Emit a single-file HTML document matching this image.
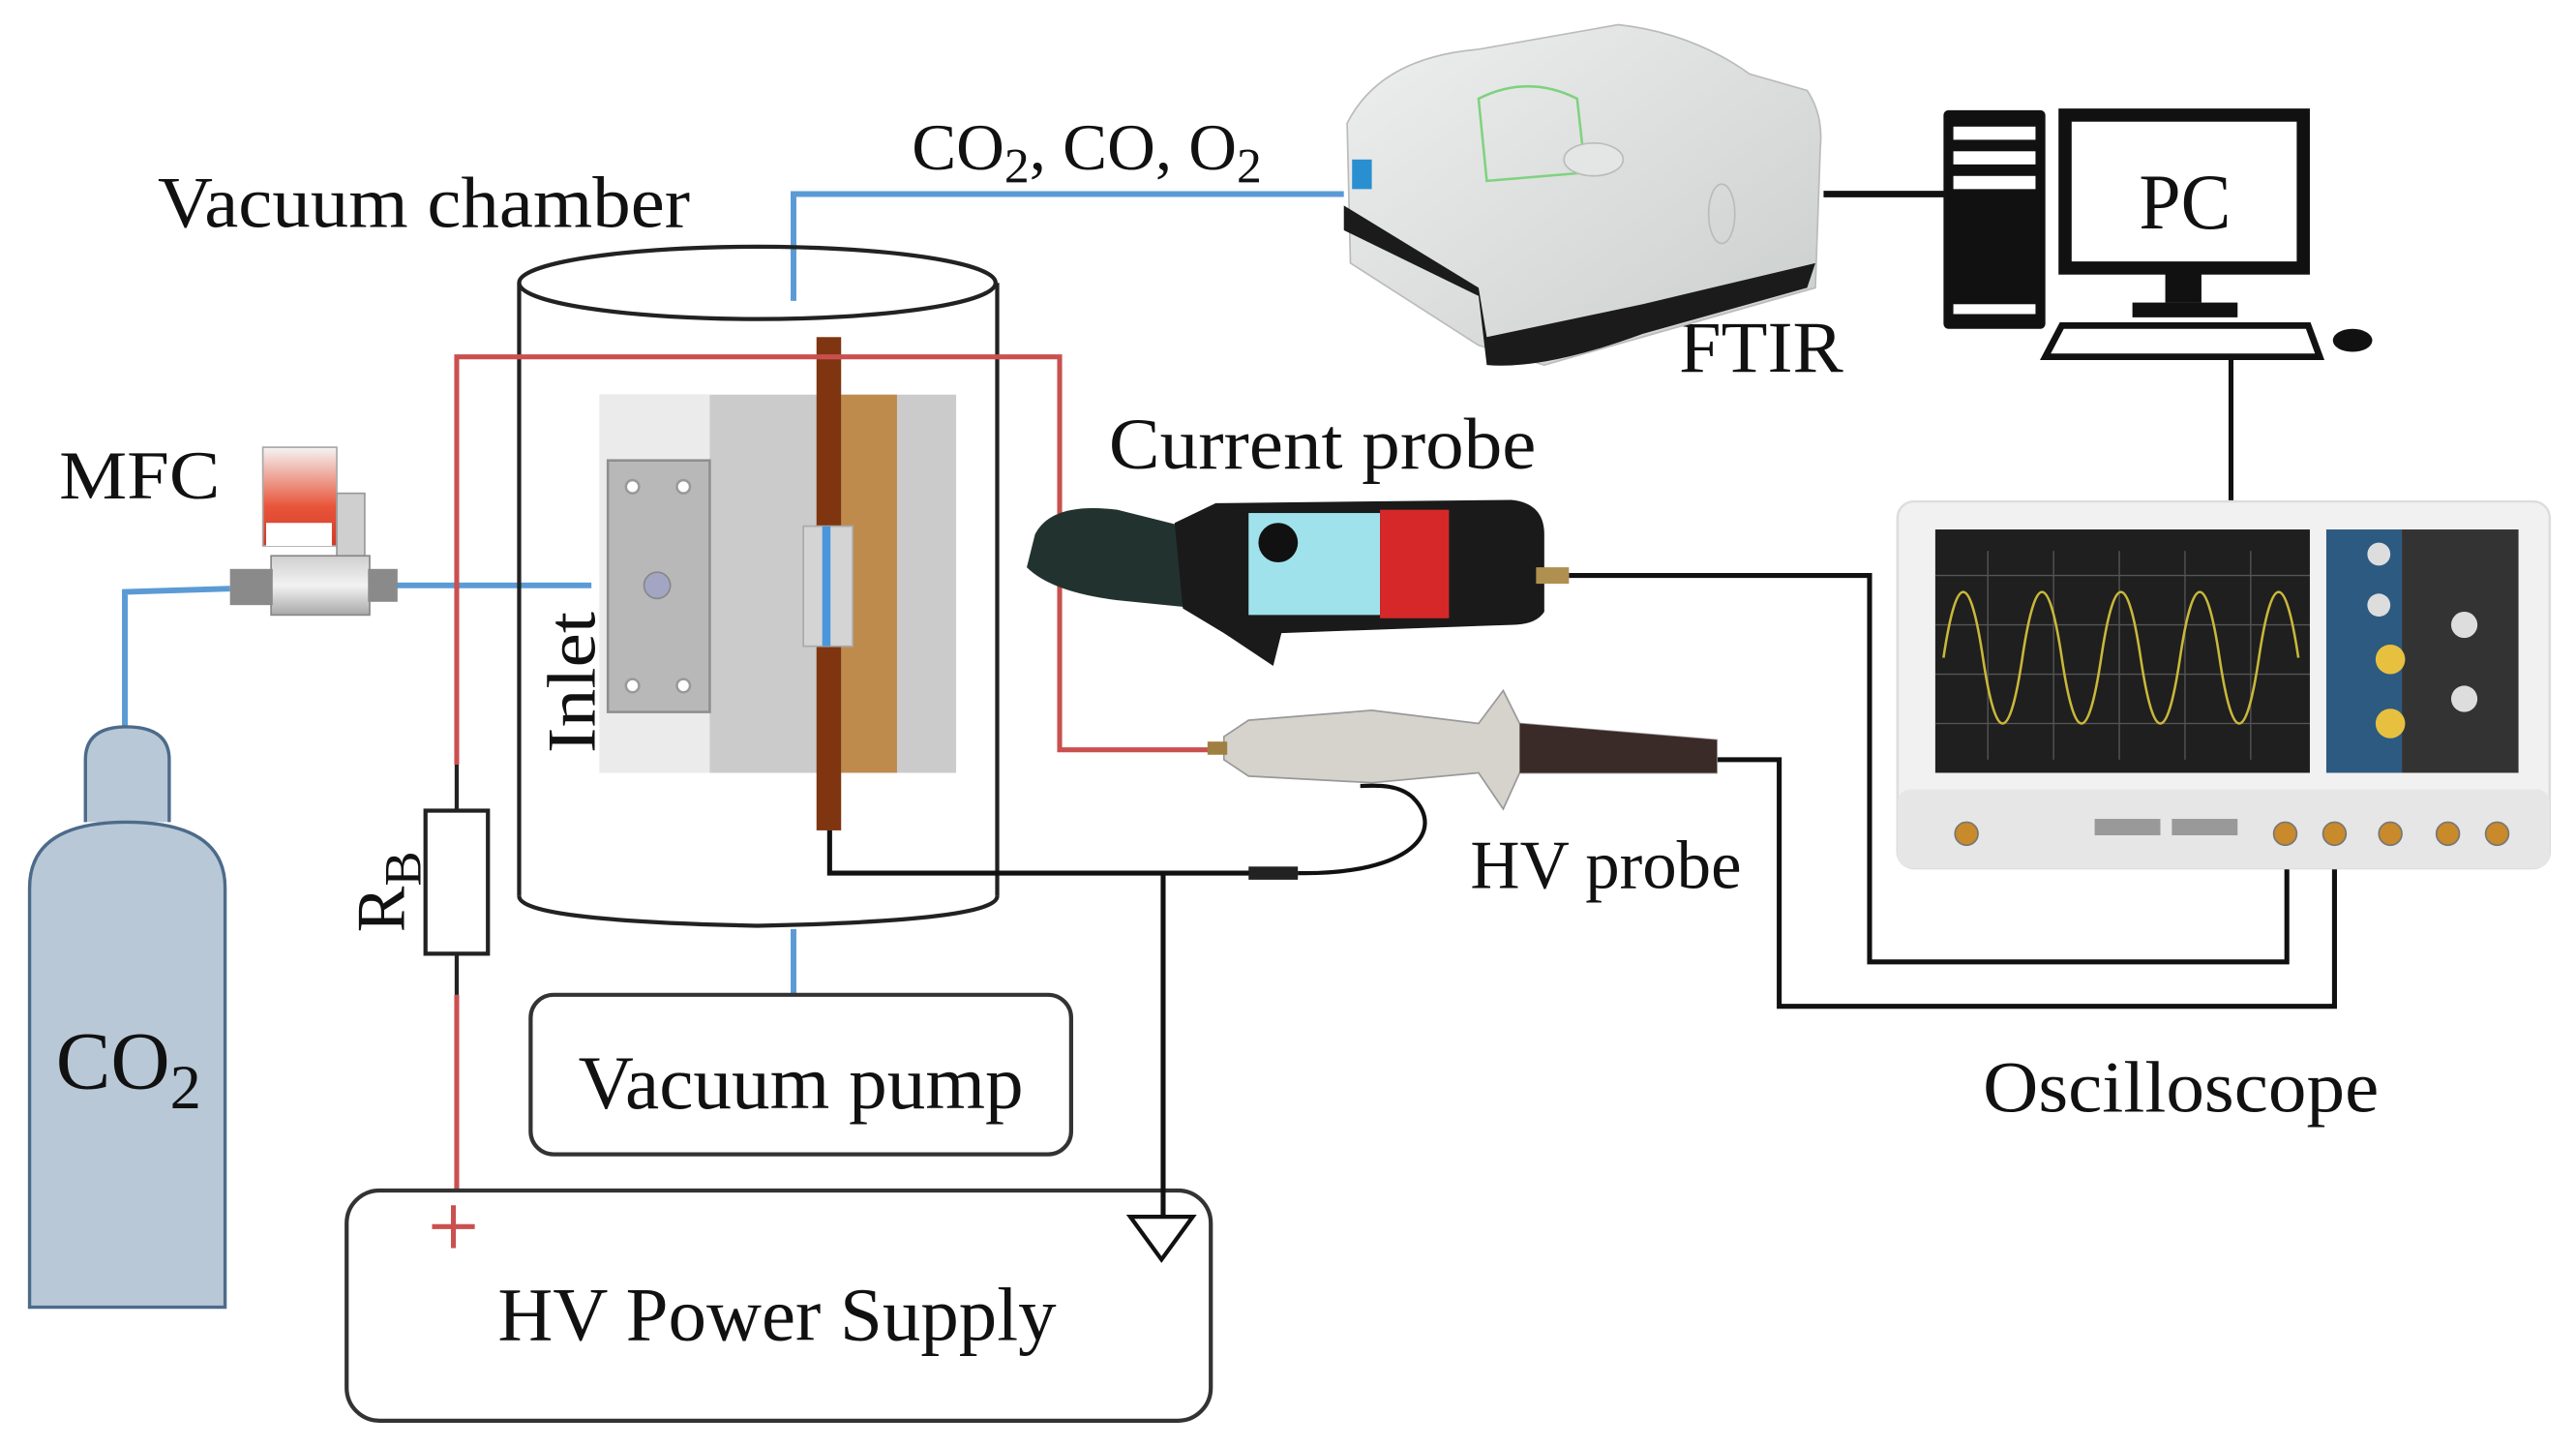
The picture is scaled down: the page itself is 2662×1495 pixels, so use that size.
<!DOCTYPE html>
<html><head><meta charset="utf-8"><style>
html,body{margin:0;padding:0;background:#fff;}
svg{display:block;}
text{font-family:"Liberation Serif",serif;fill:#111;}
</style></head><body>
<svg width="2662" height="1495" viewBox="0 0 1568 880" preserveAspectRatio="none" xmlns="http://www.w3.org/2000/svg">
<defs>
<linearGradient id="mfcr" x1="0" y1="0" x2="0" y2="1"><stop offset="0" stop-color="#f4f4f4"/><stop offset="0.6" stop-color="#e8553a"/><stop offset="1" stop-color="#d23a2a"/></linearGradient>
<linearGradient id="silv" x1="0" y1="0" x2="0" y2="1"><stop offset="0" stop-color="#cfcfcf"/><stop offset="0.5" stop-color="#f2f2f2"/><stop offset="1" stop-color="#a8a8a8"/></linearGradient>
<linearGradient id="ftir" x1="0" y1="0" x2="1" y2="1"><stop offset="0" stop-color="#eef0ef"/><stop offset="1" stop-color="#c9cdcc"/></linearGradient>
</defs>

<!-- texts -->
<text x="96" y="138" font-size="44" textLength="324" lengthAdjust="spacingAndGlyphs">Vacuum chamber</text>
<text x="555" y="103" font-size="40" textLength="213" lengthAdjust="spacingAndGlyphs">CO<tspan font-size="30" dy="8">2</tspan><tspan dy="-8">, CO, O</tspan><tspan font-size="30" dy="8">2</tspan></text>
<text x="36" y="303" font-size="42" textLength="98" lengthAdjust="spacingAndGlyphs">MFC</text>
<text x="1022" y="226" font-size="44" textLength="100" lengthAdjust="spacingAndGlyphs">FTIR</text>
<text x="675" y="285" font-size="44" textLength="260" lengthAdjust="spacingAndGlyphs">Current probe</text>
<text x="895" y="540" font-size="42" textLength="165" lengthAdjust="spacingAndGlyphs">HV probe</text>
<text x="1207" y="676" font-size="44" textLength="241" lengthAdjust="spacingAndGlyphs">Oscilloscope</text>

<!-- blue gas lines -->
<g stroke="#5b9bd5" stroke-width="3.5" fill="none">
<polyline points="483,183 483,118 818,118"/>
<polyline points="76,442 76,360 140,358"/>
<line x1="240" y1="356" x2="360" y2="356"/>
<line x1="483" y1="565" x2="483" y2="605"/>
</g>

<!-- vacuum chamber -->
<g stroke="#222" stroke-width="2.5" fill="none">
<ellipse cx="461" cy="172" rx="145" ry="22"/>
<line x1="316" y1="172" x2="316" y2="545"/>
<line x1="607" y1="172" x2="607" y2="545"/>
<path d="M316,545 Q316,560 461,563 Q607,560 607,545"/>
</g>

<!-- reactor block -->
<rect x="365" y="240" width="217" height="230" fill="#cbcbcb"/>
<rect x="365" y="240" width="67" height="230" fill="#ebebeb"/>
<rect x="512" y="240" width="34" height="230" fill="#be8b4d"/>
<rect x="370" y="280" width="62" height="153" fill="#b8b8b8" stroke="#8f8f8f" stroke-width="1.5"/>
<g fill="#fff" stroke="#999" stroke-width="1.5">
<circle cx="385" cy="296" r="4"/><circle cx="416" cy="296" r="4"/>
<circle cx="385" cy="417" r="4"/><circle cx="416" cy="417" r="4"/>
</g>
<circle cx="400" cy="356" r="8" fill="#a2a6c2" stroke="#888" stroke-width="1"/>
<rect x="497" y="205" width="15" height="300" fill="#7f3610"/>
<rect x="489" y="320" width="30" height="73" fill="#d4d4d4" stroke="#aaa" stroke-width="1"/>
<line x1="503" y1="320" x2="503" y2="393" stroke="#4a96dc" stroke-width="5"/>
<text font-size="42" transform="translate(362,458) rotate(-90)" textLength="86" lengthAdjust="spacingAndGlyphs">Inlet</text>

<!-- red wires -->
<g stroke="#c9504f" stroke-width="3" fill="none">
<polyline points="278,465 278,217 645,217 645,456 745,456"/>
<line x1="278" y1="605" x2="278" y2="724"/>
</g>
<path d="M263,746 H289 M276,733 V759" stroke="#c9504f" stroke-width="3"/>

<!-- resistor -->
<g stroke="#222" stroke-width="2.5" fill="none">
<line x1="278" y1="465" x2="278" y2="493"/>
<line x1="278" y1="580" x2="278" y2="605"/>
<rect x="259" y="493" width="38" height="87" fill="#fff"/>
</g>
<text font-size="42" transform="translate(246,567) rotate(-90)">R<tspan font-size="32" dy="10">B</tspan></text>

<!-- boxes -->
<rect x="323" y="605" width="329" height="97" rx="14" fill="#fff" stroke="#333" stroke-width="2.5"/>
<text x="352" y="674" font-size="46" textLength="271" lengthAdjust="spacingAndGlyphs">Vacuum pump</text>
<rect x="211" y="724" width="526" height="140" rx="20" fill="none" stroke="#333" stroke-width="2.5"/>
<text x="303" y="815" font-size="46" textLength="340" lengthAdjust="spacingAndGlyphs">HV Power Supply</text>

<!-- black ground wires -->
<g stroke="#111" stroke-width="3" fill="none">
<polyline points="505,505 505,531 790,531"/>
<line x1="708" y1="531" x2="708" y2="740"/>
<path d="M688,740 H726 L707,766 Z" stroke-width="2.5" fill="#fff"/>
<path d="M790,531 C860,532 880,505 860,485 C850,476 835,478 828,478" stroke-width="2.5"/>
<polyline points="955,350 1138,350 1138,585 1392,585 1392,512"/>
<polyline points="1045,462 1083,462 1083,612 1421,612 1421,512"/>
<line x1="1110" y1="118" x2="1185" y2="118" stroke-width="4"/>
<line x1="1358" y1="218" x2="1358" y2="305"/>
</g>
<rect x="760" y="527" width="30" height="8" fill="#222"/>

<!-- CO2 cylinder -->
<path d="M52,500 V462 Q52,442 77,442 Q103,442 103,462 V500" fill="#b8c8d6" stroke="#4c6b8a" stroke-width="2"/>
<path d="M18,795 V540 Q18,500 77,500 Q137,500 137,540 V795 Z" fill="#b8c8d6" stroke="#4c6b8a" stroke-width="2"/>
<text x="34" y="662" font-size="50">CO<tspan font-size="38" dy="12">2</tspan></text>

<!-- MFC -->
<rect x="160" y="272" width="45" height="60" fill="url(#mfcr)" stroke="#aaa" stroke-width="1"/>
<rect x="205" y="300" width="17" height="42" fill="#cfcfcf" stroke="#999" stroke-width="1"/>
<rect x="162" y="318" width="40" height="14" fill="#fff"/>
<rect x="165" y="338" width="60" height="36" fill="url(#silv)" stroke="#888" stroke-width="1"/>
<rect x="140" y="346" width="26" height="22" fill="#8a8a8a"/>
<rect x="224" y="346" width="18" height="20" fill="#8a8a8a"/>

<!-- FTIR -->
<path d="M820,75 Q840,35 900,30 L985,15 Q1030,20 1065,45 L1100,55 Q1110,70 1108,90 L1105,175 Q1000,205 940,222 L900,210 L822,160 Z" fill="url(#ftir)" stroke="#bbb" stroke-width="1"/>
<path d="M818,140 L900,180 L905,222 Q940,225 1000,203 L1100,175 L1105,160 L1000,185 L905,205 L900,175 L818,125 Z" fill="#1b1b1b"/>
<path d="M900,60 Q930,45 960,60 L965,105 L905,110 Z" fill="none" stroke="#7fd27f" stroke-width="1.5"/>
<rect x="823" y="97" width="12" height="18" fill="#2a8fd0"/>
<ellipse cx="970" cy="97" rx="18" ry="10" fill="#e3e6e5" stroke="#bbb"/>
<ellipse cx="1048" cy="130" rx="8" ry="18" fill="none" stroke="#bbb"/>

<!-- PC -->
<rect x="1183" y="67" width="62" height="133" rx="3" fill="#111"/>
<g fill="#fff"><rect x="1189" y="77" width="50" height="8"/><rect x="1189" y="92" width="50" height="8"/><rect x="1189" y="107" width="50" height="8"/><rect x="1189" y="185" width="50" height="6"/></g>
<rect x="1257" y="70" width="145" height="93" fill="#fff" stroke="#111" stroke-width="8"/>
<text x="1302" y="139" font-size="48" textLength="56" lengthAdjust="spacingAndGlyphs">PC</text>
<rect x="1318" y="166" width="22" height="18" fill="#111"/>
<rect x="1298" y="184" width="64" height="9" fill="#111"/>
<path d="M1255,198 L1405,198 L1412,217 L1245,217 Z" fill="#fff" stroke="#111" stroke-width="4"/>
<ellipse cx="1432" cy="207" rx="12" ry="7" fill="#111"/>

<!-- Current probe -->
<path d="M630,325 Q640,305 680,310 L720,320 L730,370 L680,365 Q640,360 625,345 Z" fill="#22332f"/>
<path d="M715,318 L740,306 L920,304 Q940,306 940,325 L940,372 Q935,380 920,380 L780,385 L775,405 L745,385 L720,370 Z" fill="#1a1a1a"/>
<rect x="760" y="312" width="80" height="62" fill="#9fe2ec"/>
<circle cx="778" cy="330" r="12" fill="#111"/>
<rect x="840" y="310" width="42" height="66" fill="#d62828"/>
<rect x="935" y="345" width="20" height="10" fill="#b09050"/>

<!-- HV probe -->
<path d="M745,448 L760,438 L835,432 L900,440 L915,420 L925,440 L1045,450 L1045,470 L925,470 L915,492 L900,470 L835,476 L760,472 L745,462 Z" fill="#d6d2cc" stroke="#999" stroke-width="1"/>
<path d="M925,440 L1045,450 L1045,470 L925,470 Z" fill="#3a2a28"/>
<rect x="735" y="451" width="12" height="8" fill="#a08040"/>

<!-- Oscilloscope -->
<rect x="1155" y="305" width="397" height="223" rx="10" fill="#f1f1f1" stroke="#ddd" stroke-width="1.5"/>
<rect x="1155" y="480" width="397" height="48" rx="8" fill="#e6e6e6"/>
<rect x="1178" y="322" width="228" height="148" fill="#1f1f1f"/>
<g stroke="#555" stroke-width="0.8">
<line x1="1178" y1="350" x2="1406" y2="350"/><line x1="1178" y1="380" x2="1406" y2="380"/><line x1="1178" y1="410" x2="1406" y2="410"/><line x1="1178" y1="440" x2="1406" y2="440"/>
<line x1="1210" y1="335" x2="1210" y2="462"/><line x1="1250" y1="335" x2="1250" y2="462"/><line x1="1290" y1="335" x2="1290" y2="462"/><line x1="1330" y1="335" x2="1330" y2="462"/><line x1="1370" y1="335" x2="1370" y2="462"/>
</g>
<path d="M1183,400 Q1195,320 1207,400 T1231,400 T1255,400 T1279,400 T1303,400 T1327,400 T1351,400 T1375,400 T1399,400" fill="none" stroke="#c9b83a" stroke-width="1.5"/>
<rect x="1416" y="322" width="46" height="148" fill="#2d5a80"/>
<rect x="1462" y="322" width="71" height="148" fill="#333"/>
<g fill="#e8c040"><circle cx="1455" cy="401" r="9"/><circle cx="1455" cy="440" r="9"/></g>
<g fill="#ddd"><circle cx="1448" cy="337" r="7"/><circle cx="1448" cy="368" r="7"/><circle cx="1500" cy="380" r="8"/><circle cx="1500" cy="425" r="8"/></g>
<g fill="#c88a2a" stroke="#777" stroke-width="1">
<circle cx="1197" cy="507" r="7"/><circle cx="1391" cy="507" r="7"/><circle cx="1421" cy="507" r="7"/><circle cx="1455" cy="507" r="7"/><circle cx="1490" cy="507" r="7"/><circle cx="1520" cy="507" r="7"/>
</g>
<rect x="1275" y="498" width="40" height="10" fill="#999"/><rect x="1322" y="498" width="40" height="10" fill="#999"/>
</svg>
</body></html>
